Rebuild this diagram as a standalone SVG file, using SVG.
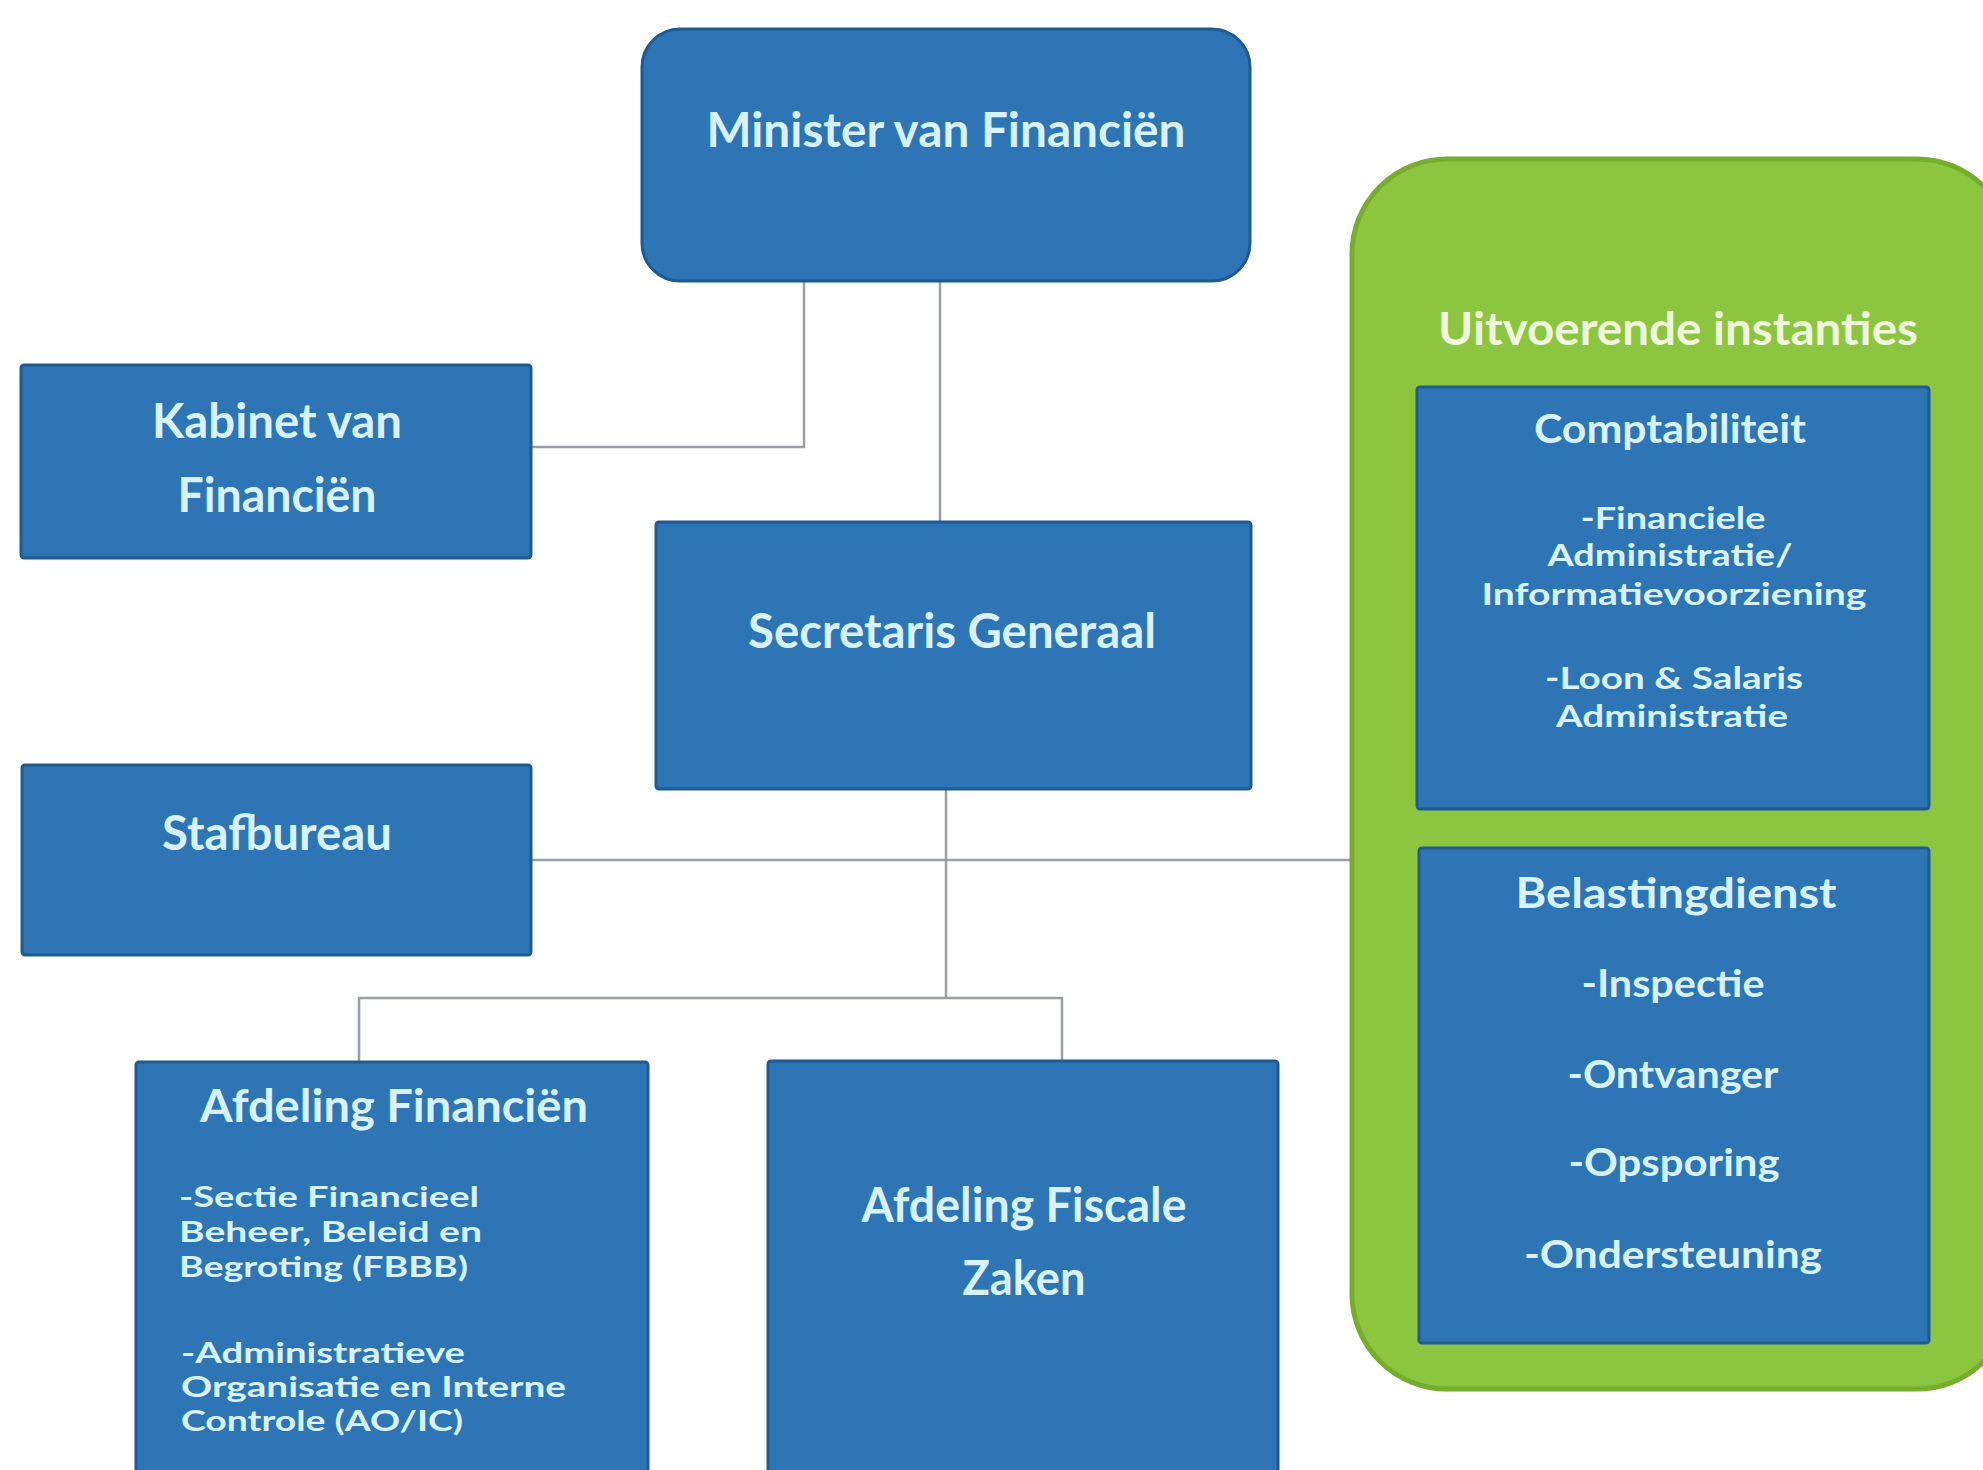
<svg xmlns="http://www.w3.org/2000/svg" width="1983" height="1470" viewBox="0 0 1983 1470">
<style>
.box{fill:#2e75b6;stroke:#1f5b90;stroke-width:3}
.grp{fill:#8cc540;stroke:#77ad2e;stroke-width:5}
.t{font-family:Lato,"Open Sans","Liberation Sans",sans-serif;font-weight:bold;fill:#d8f2fb;text-anchor:middle}
.tl{font-family:Lato,"Open Sans","Liberation Sans",sans-serif;font-weight:bold;fill:#d8f2fb;text-anchor:start}
.tg{font-family:Lato,"Open Sans","Liberation Sans",sans-serif;font-weight:bold;fill:#eef8dc;text-anchor:middle}
.c{fill:none;stroke:#9a9ea6;stroke-width:2.5}
</style>
<rect width="1983" height="1470" fill="#ffffff"/>
<g id="connectors">
<path class="c" d="M804 281 V447 H531"/>
<path class="c" d="M940 281 V521"/>
<path class="c" d="M946 789 V998"/>
<path class="c" d="M531 860 H1351"/>
<path class="c" d="M359 1062 V998 H1062 V1060"/>
</g>
<g id="minister">
<rect class="box" x="642" y="29" width="608" height="252" rx="38"/>
<text class="t" x="946" y="147" font-size="48" textLength="479" lengthAdjust="spacingAndGlyphs">Minister van Financiën</text>
</g>
<g id="kabinet">
<rect class="box" x="21" y="365" width="510" height="193" rx="3"/>
<text class="t" x="277" y="438" font-size="48" textLength="250" lengthAdjust="spacingAndGlyphs">Kabinet van</text>
<text class="t" x="277" y="512" font-size="48" textLength="199" lengthAdjust="spacingAndGlyphs">Financiën</text>
</g>
<g id="secretaris">
<rect class="box" x="656" y="522" width="595" height="267" rx="3"/>
<text class="t" x="952" y="648" font-size="48" textLength="408" lengthAdjust="spacingAndGlyphs">Secretaris Generaal</text>
</g>
<g id="stafbureau">
<rect class="box" x="22" y="765" width="509" height="190" rx="3"/>
<text class="t" x="277" y="850" font-size="48" textLength="230" lengthAdjust="spacingAndGlyphs">Stafbureau</text>
</g>
<g id="afdeling-financien">
<rect class="box" x="136" y="1062" width="512" height="420" rx="3"/>
<text class="t" x="394" y="1122" font-size="46" textLength="388" lengthAdjust="spacingAndGlyphs">Afdeling Financiën</text>
<text class="tl" x="179" y="1207" font-size="28" textLength="300" lengthAdjust="spacingAndGlyphs">-Sectie Financieel</text>
<text class="tl" x="179" y="1242" font-size="28" textLength="303" lengthAdjust="spacingAndGlyphs">Beheer, Beleid en</text>
<text class="tl" x="179" y="1277" font-size="28" textLength="289" lengthAdjust="spacingAndGlyphs">Begroting (FBBB)</text>
<text class="tl" x="181" y="1363" font-size="28" textLength="284" lengthAdjust="spacingAndGlyphs">-Administratieve</text>
<text class="tl" x="181" y="1397" font-size="28" textLength="385" lengthAdjust="spacingAndGlyphs">Organisatie en Interne</text>
<text class="tl" x="181" y="1431" font-size="28" textLength="282" lengthAdjust="spacingAndGlyphs">Controle (AO/IC)</text>
</g>
<g id="afdeling-fiscale-zaken">
<rect class="box" x="768" y="1061" width="510" height="420" rx="3"/>
<text class="t" x="1024" y="1222" font-size="48" textLength="325" lengthAdjust="spacingAndGlyphs">Afdeling Fiscale</text>
<text class="t" x="1024" y="1295" font-size="48" textLength="123" lengthAdjust="spacingAndGlyphs">Zaken</text>
</g>
<g id="uitvoerende-instanties">
<rect class="grp" x="1352" y="159" width="660" height="1230" rx="95"/>
<text class="tg" x="1678" y="345" font-size="46" textLength="480" lengthAdjust="spacingAndGlyphs">Uitvoerende instanties</text>
</g>
<g id="comptabiliteit">
<rect class="box" x="1417" y="387" width="512" height="422" rx="3"/>
<text class="t" x="1670" y="443" font-size="40" textLength="272" lengthAdjust="spacingAndGlyphs">Comptabiliteit</text>
<text class="t" x="1673" y="529" font-size="31" textLength="185" lengthAdjust="spacingAndGlyphs">-Financiele</text>
<text class="t" x="1670" y="566" font-size="31" textLength="245" lengthAdjust="spacingAndGlyphs">Administratie/</text>
<text class="t" x="1674" y="605" font-size="31" textLength="385" lengthAdjust="spacingAndGlyphs">Informatievoorziening</text>
<text class="t" x="1674" y="689" font-size="31" textLength="258" lengthAdjust="spacingAndGlyphs">-Loon &amp; Salaris</text>
<text class="t" x="1672" y="727" font-size="31" textLength="232" lengthAdjust="spacingAndGlyphs">Administratie</text>
</g>
<g id="belastingdienst">
<rect class="box" x="1419" y="848" width="510" height="495" rx="3"/>
<text class="t" x="1676" y="908" font-size="42" textLength="321" lengthAdjust="spacingAndGlyphs">Belastingdienst</text>
<text class="t" x="1673" y="997" font-size="38" textLength="183" lengthAdjust="spacingAndGlyphs">-Inspectie</text>
<text class="t" x="1673" y="1088" font-size="38" textLength="211" lengthAdjust="spacingAndGlyphs">-Ontvanger</text>
<text class="t" x="1674" y="1176" font-size="38" textLength="211" lengthAdjust="spacingAndGlyphs">-Opsporing</text>
<text class="t" x="1673" y="1268" font-size="38" textLength="298" lengthAdjust="spacingAndGlyphs">-Ondersteuning</text>
</g>
</svg>
